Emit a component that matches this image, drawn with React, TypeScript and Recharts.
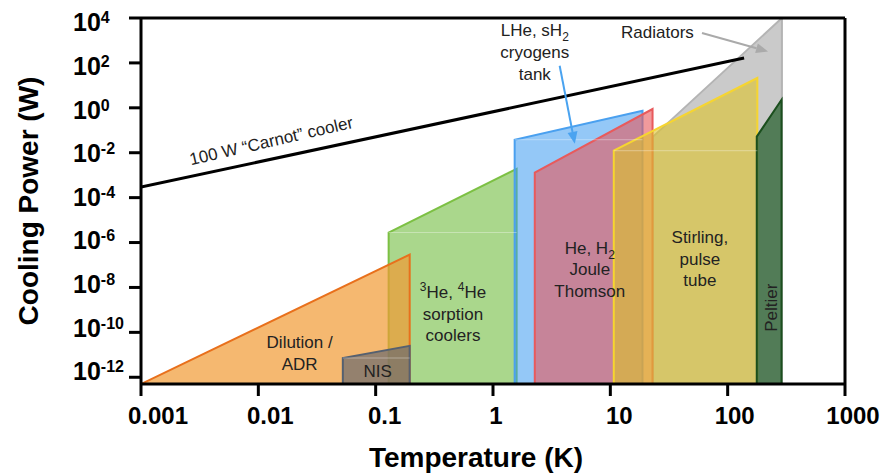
import {
  ComposedChart,
  Area,
  Line,
  XAxis,
  YAxis,
  ReferenceLine,
  ReferenceDot,
  Label,
} from 'recharts';

const FONT = '"Liberation Sans", Helvetica, Arial, sans-serif';
const FLOOR = 10 ** -12.3;

const T_TICKS = [0.001, 0.01, 0.1, 1, 10, 100, 1000];
const T_TICK_SHIFT = [17, 12, 9, 3, 9, 7, 8];
const P_TICKS = [1e4, 1e2, 1, 1e-2, 1e-4, 1e-6, 1e-8, 1e-10, 1e-12];

// each region goes up from the floor, across its top edge and back down
const radiators = [
  { T: 23, P: FLOOR },
  { T: 23, P: 0.051 },
  { T: 290, P: 1e4 },
  { T: 290, P: FLOOR },
];
const sorption = [
  { T: 0.129, P: FLOOR },
  { T: 0.129, P: 2.8e-6 },
  { T: 1.59, P: 1.9e-3 },
  { T: 1.59, P: FLOOR },
];
const dilution = [
  { T: 0.001, P: FLOOR },
  { T: 0.195, P: 2.9e-7 },
  { T: 0.195, P: FLOOR },
];
const nis = [
  { T: 0.0525, P: FLOOR },
  { T: 0.0525, P: 7.2e-12 },
  { T: 0.195, P: 2.5e-11 },
  { T: 0.195, P: FLOOR },
];
const cryogens = [
  { T: 1.53, P: FLOOR },
  { T: 1.53, P: 0.038 },
  { T: 18.8, P: 0.74 },
  { T: 18.8, P: FLOOR },
];
const jouleThomson = [
  { T: 2.27, P: FLOOR },
  { T: 2.27, P: 1.3e-3 },
  { T: 22.9, P: 0.885 },
  { T: 22.9, P: FLOOR },
];
const stirling = [
  { T: 10.7, P: FLOOR },
  { T: 10.7, P: 0.0123 },
  { T: 179, P: 21.3 },
  { T: 179, P: FLOOR },
];
const peltier = [
  { T: 177, P: FLOOR },
  { T: 177, P: 0.052 },
  { T: 288, P: 2.3 },
  { T: 288, P: FLOOR },
];
const carnot = [
  { T: 0.001, P: 2.95e-4 },
  { T: 138, P: 165 },
];

const REGIONS = [
  { name: 'radiators', data: radiators, fill: '#b8b8b8', op: 0.75, stroke: '#b4b4b4', ledge: false },
  { name: 'sorption', data: sorption, fill: '#86c65b', op: 0.7, stroke: '#7cc043', ledge: true },
  { name: 'dilution', data: dilution, fill: '#f19a33', op: 0.7, stroke: '#e8701c', ledge: false },
  { name: 'nis', data: nis, fill: '#6b6a6e', op: 0.7, stroke: '#556070', ledge: true },
  { name: 'cryogens', data: cryogens, fill: '#3d9bf0', op: 0.55, stroke: '#4aa0ef', ledge: true },
  { name: 'jouleThomson', data: jouleThomson, fill: '#e8575a', op: 0.6, stroke: '#e85a5c', ledge: false },
  { name: 'stirling', data: stirling, fill: '#ddc328', op: 0.6, stroke: '#f6d530', ledge: true },
  { name: 'peltier', data: peltier, fill: '#2a6230', op: 0.75, stroke: '#1b4f1e', ledge: false },
];

const ARROWS = [
  { from: { T: 3.7, P: 75 }, to: { T: 4.98, P: 0.025 }, color: '#4aa3f0' },
  { from: { T: 60.4, P: 2150 }, to: { T: 221, P: 325 }, color: '#aaaaaa' },
];

const sub = (s: string) => (
  <tspan fontSize={12} dy={5}>{s}</tspan>
);
const sup = (s: string) => (
  <tspan fontSize={12} dy={-7}>{s}</tspan>
);

const NOTES: { T: number; P: number; lines: React.ReactNode[]; angle?: number }[] = [
  { T: 0.0225, P: 2e-11, lines: ['Dilution /', 'ADR'] },
  { T: 0.104, P: 1e-12, lines: ['NIS'] },
  {
    T: 0.456,
    P: 3.4e-9,
    lines: [
      <>{sup('3')}<tspan dy={7}>He, </tspan>{sup('4')}<tspan dy={7}>He</tspan></>,
      'sorption',
      'coolers',
    ],
  },
  { T: 6.68, P: 3.2e-7, lines: [<>He, H{sub('2')}</>, 'Joule', 'Thomson'] },
  { T: 58, P: 9.5e-7, lines: ['Stirling,', 'pulse', 'tube'] },
  { T: 261, P: 1.26e-9, lines: ['Peltier'], angle: -90 },
  { T: 2.27, P: 1514, lines: [<>LHe, sH{sub('2')}</>, 'cryogens', 'tank'] },
  { T: 25.2, P: 1285, lines: ['Radiators'] },
  { T: 0.0132, P: 0.019, lines: ['100 W \u201cCarnot\u201d cooler'], angle: -13 },
];

function YTick({ y, payload }: any) {
  const exp = Math.round(Math.log10(payload.value));
  const i = (4 - exp) / 2;
  return (
    <text x={73} y={y + 13.4 - 1.29 * i} fontFamily={FONT} fontSize={25} fontWeight="bold" fill="#000">
      10
      <tspan fontSize={16} dy={-8}>{exp}</tspan>
    </text>
  );
}

function XTick({ x, y, payload, index }: any) {
  return (
    <text
      x={x + (T_TICK_SHIFT[index] ?? 0)}
      y={y + 26}
      textAnchor="middle"
      fontFamily={FONT}
      fontSize={24}
      fontWeight="bold"
      fill="#000"
    >
      {String(payload.value)}
    </text>
  );
}

function Arrow({ x1, y1, x2, y2, stroke }: any) {
  const a = Math.atan2(y2 - y1, x2 - x1);
  const len = 12;
  const half = 5;
  const bx = x2 - len * Math.cos(a);
  const by = y2 - len * Math.sin(a);
  const px = -Math.sin(a) * half;
  const py = Math.cos(a) * half;
  return (
    <g>
      <line x1={x1} y1={y1} x2={bx} y2={by} stroke={stroke} strokeWidth={2} />
      <polygon points={`${x2},${y2} ${bx + px},${by + py} ${bx - px},${by - py}`} fill={stroke} />
    </g>
  );
}

function NoteText({ cx, cy, lines, angle }: any) {
  return (
    <g transform={angle ? `rotate(${angle} ${cx} ${cy})` : undefined}>
      {lines.map((ln: React.ReactNode, i: number) => (
        <text
          key={i}
          x={cx}
          y={cy + i * 21.7}
          textAnchor="middle"
          fontFamily={FONT}
          fontSize={17}
          fill="#222"
        >
          {ln}
        </text>
      ))}
    </g>
  );
}

export default function App() {
  return (
    <div style={{ position: 'absolute', left: 0, top: 0, background: '#fff' }}>
      <ComposedChart width={882} height={476} margin={{ top: 18, right: 37, bottom: 0, left: 0 }}>
        <XAxis
          dataKey="T"
          type="number"
          scale="log"
          domain={[0.001, 1000]}
          allowDataOverflow
          ticks={T_TICKS}
          height={92}
          tickSize={12}
          tick={<XTick />}
          axisLine={{ stroke: '#000', strokeWidth: 3 }}
          tickLine={{ stroke: '#000', strokeWidth: 3 }}
        >
          <Label
            content={({ viewBox }: any) => (
              <text
                x={viewBox.x + viewBox.width / 2 - 17}
                y={viewBox.y + 83}
                textAnchor="middle"
                fontFamily={FONT}
                fontSize={28}
                fontWeight="bold"
                fill="#000"
              >
                Temperature (K)
              </text>
            )}
          />
        </XAxis>
        <YAxis
          dataKey="P"
          type="number"
          scale="log"
          domain={[FLOOR, 1e4]}
          allowDataOverflow
          ticks={P_TICKS}
          width={141}
          tickSize={12}
          tick={<YTick />}
          axisLine={{ stroke: '#000', strokeWidth: 3 }}
          tickLine={{ stroke: '#000', strokeWidth: 3 }}
        >
          <Label
            content={({ viewBox }: any) => {
              const cy = viewBox.y + viewBox.height / 2;
              return (
                <text
                  x={28}
                  y={cy}
                  transform={`rotate(-90 28 ${cy})`}
                  textAnchor="middle"
                  dominantBaseline="central"
                  fontFamily={FONT}
                  fontSize={28}
                  fontWeight="bold"
                  fill="#000"
                >
                  Cooling Power (W)
                </text>
              );
            }}
          />
        </YAxis>

        {REGIONS.map((r) => (
          <Area
            key={r.name}
            name={r.name}
            data={r.data}
            dataKey="P"
            type="linear"
            baseValue="dataMin"
            fill={r.fill}
            fillOpacity={r.op}
            stroke={r.stroke}
            strokeWidth={2}
            dot={false}
            activeDot={false}
            isAnimationActive={false}
          />
        ))}

        {REGIONS.filter((r) => r.ledge).map((r) => (
          <ReferenceLine
            key={`ledge-${r.name}`}
            segment={[
              { x: r.data[0].T, y: r.data[1].P },
              { x: r.data[r.data.length - 1].T, y: r.data[1].P },
            ]}
            stroke="#ffffff"
            strokeOpacity={0.35}
            strokeWidth={1}
          />
        ))}

        <Line
          data={carnot}
          dataKey="P"
          type="linear"
          stroke="#000"
          strokeWidth={3}
          dot={false}
          activeDot={false}
          isAnimationActive={false}
        />

        {ARROWS.map((a, i) => (
          <ReferenceLine
            key={`arrow-${i}`}
            segment={[
              { x: a.from.T, y: a.from.P },
              { x: a.to.T, y: a.to.P },
            ]}
            stroke={a.color}
            ifOverflow="visible"
            shape={(p: any) => <Arrow {...p} stroke={a.color} />}
          />
        ))}

        {NOTES.map((n, i) => (
          <ReferenceDot
            key={`note-${i}`}
            x={n.T}
            y={n.P}
            r={0}
            ifOverflow="visible"
            shape={(p: any) => <NoteText cx={p.cx} cy={p.cy} lines={n.lines} angle={n.angle} />}
          />
        ))}

        <ReferenceLine y={1e4} stroke="#000" strokeWidth={3} ifOverflow="visible" />
        <ReferenceLine x={1000} stroke="#000" strokeWidth={3} ifOverflow="visible" />
      </ComposedChart>
    </div>
  );
}
